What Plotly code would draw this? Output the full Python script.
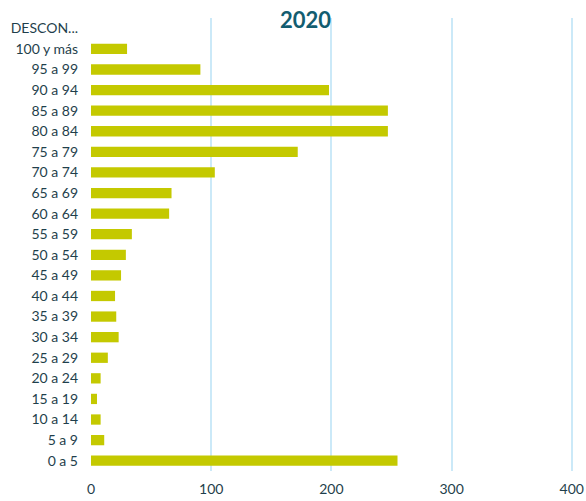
import plotly.graph_objects as go

categories = ["DESCON...", "100 y más", "95 a 99", "90 a 94", "85 a 89", "80 a 84",
              "75 a 79", "70 a 74", "65 a 69", "60 a 64", "55 a 59", "50 a 54",
              "45 a 49", "40 a 44", "35 a 39", "30 a 34", "25 a 29", "20 a 24",
              "15 a 19", "10 a 14", "5 a 9", "0 a 5"]
values = [0, 30, 91, 198, 247, 247, 172, 103, 67, 65, 34, 29, 25, 20, 21, 23,
          14, 8, 5, 8, 11, 255]
x_ticks = [0, 100, 200, 300, 400]
title_text = "2020"

fig = go.Figure(go.Bar(
    y=categories, x=values, orientation="h",
    marker=dict(color="#c4c900", line=dict(width=0)),
    width=0.5,
))

fig.update_layout(
    width=586, height=501,
    margin=dict(l=91, r=13, t=18, b=30),
    paper_bgcolor="white", plot_bgcolor="white",
    showlegend=False,
    font=dict(family="Lato, 'Open Sans', sans-serif", size=14, color="#1f3f4c"),
    annotations=[dict(text="<b>" + title_text + "</b>", xref="paper", yref="paper",
                      x=0.445, y=1.0, yanchor="middle", xanchor="center",
                      yshift=-1, showarrow=False,
                      font=dict(size=22, color="#135d70", family="Lato, 'Open Sans', sans-serif"))],
)
fig.update_xaxes(range=[0, 401], tickvals=x_ticks, showgrid=True,
                 gridcolor="#cbe9f8", gridwidth=2, zeroline=False,
                 showline=False, ticks="", ticklabelstandoff=8, automargin=False,
                 tickfont=dict(size=14, color="#1f3f4c"))
fig.update_yaxes(categoryorder="array", categoryarray=categories[::-1],
                 showgrid=False, zeroline=False, showline=False, ticks="",
                 ticklabelstandoff=12, automargin=False,
                 tickfont=dict(size=14, color="#1f3f4c"))

fig.write_html("out.html", config={"displayModeBar": False},
               post_script="document.body.style.margin='0';")
